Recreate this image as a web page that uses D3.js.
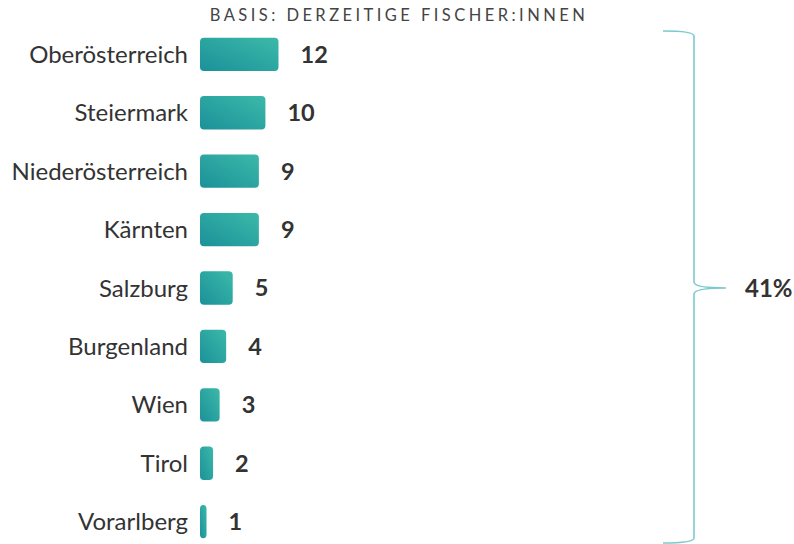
<!DOCTYPE html>
<html>
<head>
<meta charset="utf-8">
<title>Fischer:innen nach Bundesland</title>
<script src="https://cdn.jsdelivr.net/npm/d3@7"></script>
<style>
    body { margin: 0; background: #fff; }
    .cat { font-family: Lato, sans-serif; font-size: 24px; fill: #333; }
    .val { font-family: Lato, sans-serif; font-size: 23.5px; font-weight: bold; fill: #333; }
    .title { font-family: Lato, sans-serif; font-size: 16.5px; fill: #444; letter-spacing: 3.45px; }
    .total { font-family: Lato, sans-serif; font-size: 24px; font-weight: bold; fill: #333; }
</style>
</head>
<body>
<script>
    let states = ["Oberösterreich", "Steiermark", "Niederösterreich", "Kärnten", "Salzburg",
                  "Burgenland", "Wien", "Tirol", "Vorarlberg"];
    let counts = [12, 10, 9, 9, 5, 4, 3, 2, 1];
    let title = "BASIS: DERZEITIGE FISCHER:INNEN";
    let totalLabel = "41%";

    let svg = d3.select("body").append("svg").attr("width", 794).attr("height", 544);

    let grad = svg.append("defs").append("linearGradient")
        .attr("id", "barGrad")
        .attr("x1", 0).attr("y1", 1).attr("x2", 1).attr("y2", 0);
    grad.append("stop").attr("offset", "0%").attr("stop-color", "#1b9199");
    grad.append("stop").attr("offset", "100%").attr("stop-color", "#3cb9a9");

    let x = d3.scaleLinear().domain([0, 12]).range([0, 78.5]);
    let y = d3.scaleBand().domain(states).range([26, 550]).paddingInner(0.43).paddingOuter(0.2);

    let left = 200;

    svg.append("text").attr("class", "title")
        .attr("x", 399).attr("y", 21)
        .attr("text-anchor", "middle")
        .text(title);

    let rows = svg.selectAll(".row").data(states).enter().append("g").attr("class", "row");

    rows.append("rect")
        .attr("x", left)
        .attr("y", d => y(d))
        .attr("width", (d, i) => Math.max(x(counts[i]), 6))
        .attr("height", y.bandwidth())
        .attr("rx", 4)
        .style("fill", "url(#barGrad)");

    rows.append("text").attr("class", "cat")
        .attr("x", 188)
        .attr("y", d => y(d) + y.bandwidth() / 2)
        .attr("dy", "0.36em")
        .attr("text-anchor", "end")
        .text(d => d);

    rows.append("text").attr("class", "val")
        .attr("x", (d, i) => left + Math.max(x(counts[i]), 6) + 22)
        .attr("y", d => y(d) + y.bandwidth() / 2)
        .attr("dy", "0.36em")
        .text((d, i) => counts[i]);

    // curly bracket
    let bx = 694, bTop = 31, bBot = 543, mid = 288;
    let bracket = "M663," + bTop + " Q" + bx + "," + bTop + " " + bx + "," + (bTop + 5) +
        " L" + bx + "," + (mid - 6) +
        " Q" + bx + "," + mid + " " + 726 + "," + mid +
        " Q" + bx + "," + mid + " " + bx + "," + (mid + 6) +
        " L" + bx + "," + (bBot - 5) +
        " Q" + bx + "," + bBot + " 663," + bBot;
    svg.append("path")
        .attr("d", bracket)
        .attr("fill", "none")
        .attr("stroke", "#7ccacd")
        .attr("stroke-width", 1.6);

    svg.append("text").attr("class", "total")
        .attr("x", 745).attr("y", mid)
        .attr("dy", "0.36em")
        .text(totalLabel);
</script>
</body>
</html>
